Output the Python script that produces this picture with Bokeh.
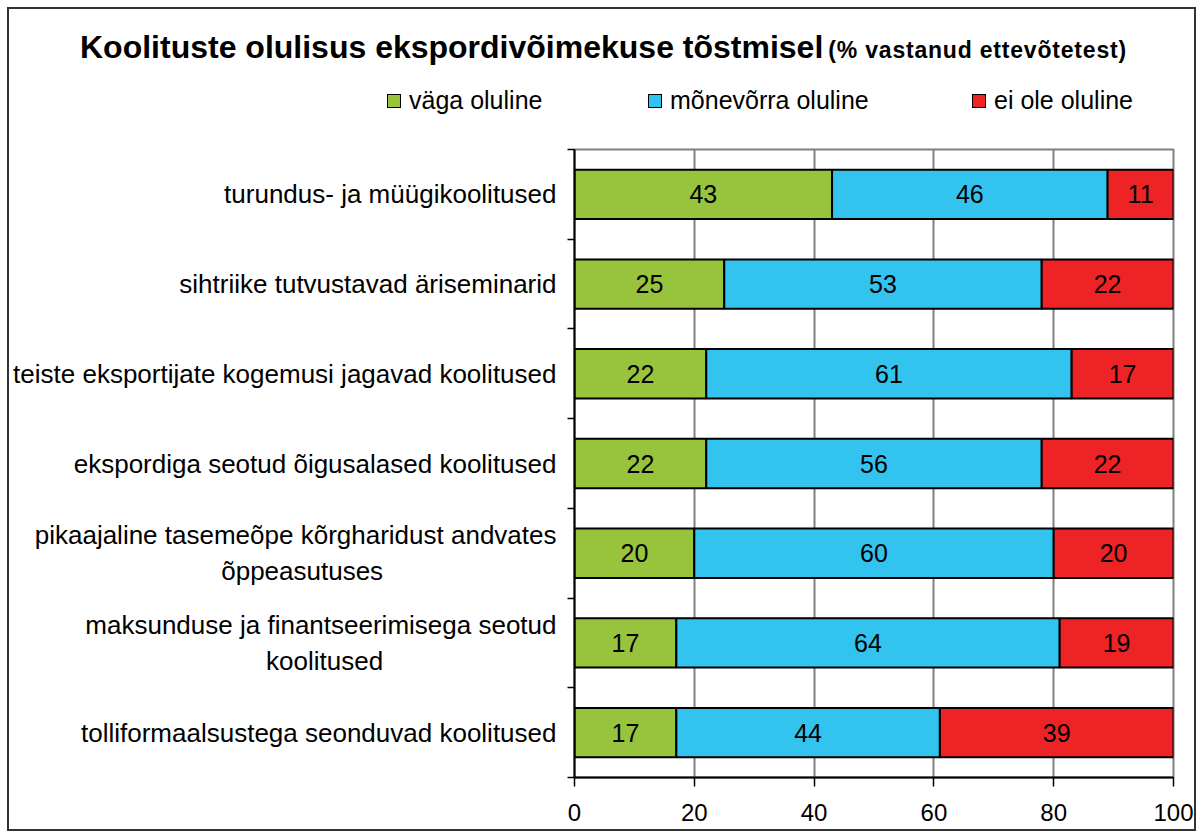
from bokeh.plotting import figure
from bokeh.layouts import column
from bokeh.models import ColumnDataSource, Range1d, FixedTicker, Div
from bokeh.core.properties import value
from bokeh.embed import file_html
from bokeh.resources import INLINE

FONT = "Liberation Sans"
NB = "\u00a0"

title_main = "Koolituste olulisus ekspordivõimekuse tõstmisel"
title_sub = "(% vastanud ettevõtetest)"

categories = [
    "turundus- ja müügikoolitused",
    "sihtriike tutvustavad äriseminarid",
    "teiste eksportijate kogemusi jagavad koolitused",
    "ekspordiga seotud õigusalased koolitused",
    "pikaajaline tasemeõpe kõrgharidust andvates\nõppeasutuses",
    "maksunduse ja finantseerimisega seotud\nkoolitused",
    "tolliformaalsustega seonduvad koolitused",
]
series_names = ["väga oluline", "mõnevõrra oluline", "ei ole oluline"]
vaga_oluline = [43, 25, 22, 22, 20, 17, 17]
monevorra_oluline = [46, 53, 61, 56, 60, 64, 44]
ei_ole_oluline = [11, 22, 17, 22, 20, 19, 39]
series_colors = ["#97C33D", "#33C3EF", "#EE2326"]
x_ticks = [0, 20, 40, 60, 80, 100]

n = len(categories)
ypos = [n - 1 - i for i in range(n)]  # first category on top


def center_lines(label, pad=24):
    # second line is centred under the first one (right-aligned axis labels)
    if "\n" in label:
        a, b = label.split("\n")
        return a + "\n" + b + NB * pad
    return label


# ---------------- header: title + legend ----------------
font_css = "font-family:'Liberation Sans',Arial,sans-serif;color:#000;"
legend_left = [378, 639, 963]
legend_html = ""
for name, col, lx in zip(series_names, series_colors, legend_left):
    legend_html += (
        '<span style="position:absolute;left:%dpx;top:77px;height:30px;'
        'display:flex;align-items:center;white-space:nowrap;%s font-size:25px;">'
        '<span style="display:inline-block;width:14px;height:14px;box-sizing:border-box;'
        'background:%s;border:1.5px solid #000;margin-right:8px;"></span>%s</span>'
        % (lx, font_css, col, name)
    )

header_html = (
    '<div style="position:relative;width:1185px;height:130px;">'
    '<span style="position:absolute;left:71px;top:16px;white-space:nowrap;'
    + font_css + 'font-weight:bold;">'
    '<span style="font-size:32px;">' + title_main + '</span>'
    '<span style="font-size:23px;letter-spacing:0.8px;margin-left:5px;">' + title_sub + '</span>'
    '</span>' + legend_html + '</div>'
)
header = Div(text=header_html, width=1185, height=130,
             styles={"margin": "0", "padding": "0"})

# ---------------- main chart ----------------
p = figure(
    width=1185, height=690,
    x_range=Range1d(0, 100), y_range=Range1d(-0.5, n - 0.5),
    output_backend="svg", toolbar_location=None,
    min_border_left=565, min_border_right=21,
    min_border_top=10, min_border_bottom=52,
    background_fill_color="white", border_fill_color="white",
)
p.outline_line_color = "#808080"
p.outline_line_width = 2

p.xgrid.ticker = FixedTicker(ticks=x_ticks)
p.xgrid.grid_line_color = "#808080"
p.xgrid.grid_line_width = 2
p.ygrid.visible = False

series = [vaga_oluline, monevorra_oluline, ei_ole_oluline]
left = [0] * n
for name, vals, col in zip(series_names, series, series_colors):
    right = [l + v for l, v in zip(left, vals)]
    src = ColumnDataSource(dict(
        y=ypos, left=left, right=right,
        mid=[(l + r) / 2 for l, r in zip(left, right)],
        txt=[str(v) for v in vals],
    ))
    p.hbar(y="y", left="left", right="right", height=0.55, source=src,
           fill_color=col, line_color="black", line_width=2)
    p.text(x="mid", y="y", text="txt", source=src, text_align="center",
           text_baseline="middle", text_font=value(FONT),
           text_font_size="25px", text_color="black")
    left = right

xa = p.xaxis[0]
xa.ticker = FixedTicker(ticks=x_ticks)
xa.axis_line_color = "black"
xa.axis_line_width = 2
xa.major_tick_out = 9
xa.major_tick_in = 0
xa.major_tick_line_color = "black"
xa.major_tick_line_width = 1.5
xa.minor_tick_out = 0
xa.minor_tick_in = 0
xa.major_label_text_font = FONT
xa.major_label_text_font_size = "24px"
xa.major_label_text_color = "black"
xa.major_label_standoff = 17

ya = p.yaxis[0]
ya.ticker = FixedTicker(ticks=list(range(n)), minor_ticks=[i - 0.5 for i in range(n + 1)])
ya.major_label_overrides = {ypos[i]: center_lines(categories[i]) for i in range(n)}
ya.axis_line_color = "black"
ya.axis_line_width = 2
ya.major_tick_out = 0
ya.major_tick_in = 0
ya.minor_tick_out = 7
ya.minor_tick_in = 0
ya.minor_tick_line_color = "black"
ya.minor_tick_line_width = 1.5
ya.major_label_text_font = FONT
ya.major_label_text_font_size = "26px"
ya.major_label_text_color = "black"
ya.major_label_standoff = 11

layout = column(header, p, spacing=0,
                styles={"border": "2px solid #333333",
                        "margin-left": "7px", "margin-top": "7px"})

open("out.html", "w").write(file_html(layout, INLINE))
